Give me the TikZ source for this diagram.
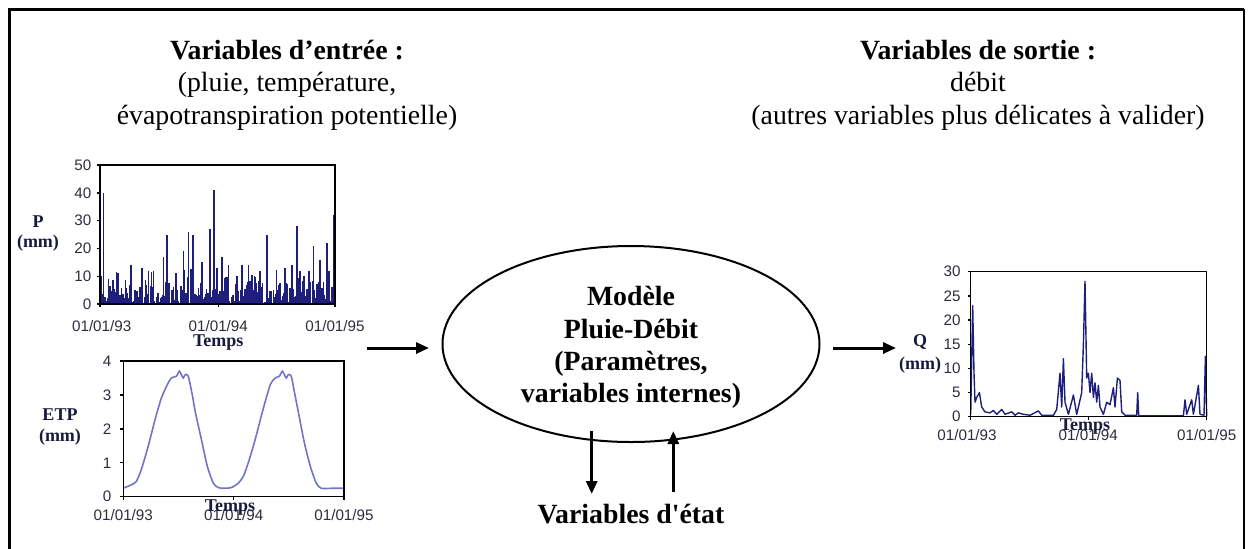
\documentclass[tikz,border=0pt]{standalone}
\usepackage{fontspec}
\setmainfont{Liberation Serif}
\newfontfamily\axisfont{Liberation Sans}
\usetikzlibrary{shapes.geometric,arrows.meta}
\definecolor{navy}{RGB}{30,30,125}
\definecolor{etpcol}{RGB}{115,115,200}
\definecolor{tickcol}{RGB}{45,45,60}
\definecolor{lblcol}{RGB}{25,25,60}
\begin{document}
\begin{tikzpicture}[x=0.5pt,y=-0.5pt,
  titlefont/.style={font=\fontsize{13.9}{16.2}\selectfont, align=center, inner sep=0pt},
  boldtitle/.style={font=\bfseries\fontsize{13.9}{16.2}\selectfont, align=center, inner sep=0pt},
  arr/.style={line width=1.5pt, -{Triangle[length=6.5pt,width=5.5pt]}},
  chartframe/.style={line width=0.7pt, black},
  ticklbl/.style={font=\axisfont\fontsize{7.6}{9}\selectfont, text=tickcol, inner sep=1pt},
  axlbl/.style={font=\bfseries\fontsize{9}{10}\selectfont, text=lblcol, inner sep=0pt},
  pdata/.style={line width=0.55pt, navy},
  qdata/.style={line width=0.7pt, navy, line join=round},
  etpline/.style={line width=0.8pt, etpcol}
]
\useasboundingbox (0,0) rectangle (1248,548);
% outer frame (bottom edge lies outside the picture)
\draw[line width=1.5pt] (9,560) -- (9,9) -- (1244,9);
\draw[line width=1.2pt] (1244,9) -- (1244,560);

% titles
\node[titlefont] (tin) at (287,85) {\textbf{Variables d’entrée :}\\(pluie, température,\\évapotranspiration potentielle)};
\node[titlefont] (tout) at (978,85) {\textbf{Variables de sortie :}\\débit\\(autres variables plus délicates à valider)};

% ---------------- P chart ----------------
\begin{scope}[shift={(100,304)}]
  \begin{scope}[yscale=-2.78]
    \pgfmathsetseed{4321}
    \foreach \i in {0,0.5,...,234.5} {
      \pgfmathsetmacro{\h}{(rnd<0.7)*rnd*rnd*15}
      \draw[pdata] (\i,0) -- (\i,\h);
    }
    \foreach \x/\v in {1/10,3.3/40,8.3/9,18.3/7,26.7/3,31/14,35/5,41.7/13,48.3/12,53.3/12,63.3/17,66.7/25,71.7/5,76/11,83.3/19,88.3/26,92.7/25,101.7/15,110/27,114/41,116.7/13,121.7/17,128.3/14,136.7/10,141.7/14,148.3/14,153.3/5,160/12,166.7/25,173.3/5,178.3/4,185/13,191.7/14,196.7/28,200/12,205/3,213.3/21,220/16,226.7/22,231.7/6,234/32} {
      \draw[pdata, line width=0.8pt] (\x,0) -- (\x,\v);
    }
  \end{scope}
  \draw[chartframe] (0,0) rectangle (235,-139);
  \foreach \v in {0,10,20,30,40,50} {
    \draw[chartframe] (0,-\v*2.78) -- ++(-3,0);
    \node[ticklbl, anchor=east] (py\v) at (-6.3,-\v*2.78) {\v};
  }
  \foreach \x in {0,118.3,235} {
    \draw[chartframe] (\x,0) -- ++(0,3);
  }
  \node[ticklbl] (px1) at (1.7,22) {01/01/93};
  \node[ticklbl] (px2) at (118.3,22) {01/01/94};
  \node[ticklbl] (px3) at (235,22) {01/01/95};
  \node[axlbl] (ptemps) at (118.3,39) {Temps};
\end{scope}
\node[axlbl] (plab) at (38,222) {P};
\node[axlbl] (pmm) at (38,243) {(mm)};

% ---------------- ETP chart ----------------
\begin{scope}[shift={(123.3,496.7)}]
  \begin{scope}[yscale=-33.93]
    \draw[etpline] plot[smooth, tension=0.45] coordinates {(0,0.25) (8,0.35) (13,0.45) (18,0.8) (25,1.5) (32,2.3) (38,2.9) (44,3.3) (48,3.5) (53,3.55) (56,3.7) (58,3.6) (60,3.5) (62,3.6) (65,3.55) (69,3.0) (72,2.5) (78,1.7) (84,0.9) (90,0.4) (95,0.27) (100,0.25) (108,0.27) (115,0.4) (120,0.6) (125,1.0) (132,1.7) (140,2.6) (147,3.3) (152,3.5) (156,3.55) (159,3.7) (161,3.6) (163,3.5) (165,3.6) (168,3.55) (171,3.1) (175,2.5) (181,1.6) (187,0.9) (193,0.4) (198,0.25) (210,0.25) (220.7,0.25)};
  \end{scope}
  \draw[chartframe] (0,0) rectangle (220.7,-135.7);
  \foreach \v in {0,1,2,3,4} {
    \draw[chartframe] (0,-\v*33.93) -- ++(-3,0);
    \node[ticklbl, anchor=east] (ey\v) at (-9.6,-\v*33.93) {\v};
  }
  \foreach \x in {0,110.35,220.7} {
    \draw[chartframe] (\x,0) -- ++(0,3);
  }
  \node[ticklbl] (ex1) at (0,18.3) {01/01/93};
  \node[ticklbl] (ex2) at (110.35,18.3) {01/01/94};
  \node[ticklbl] (ex3) at (220.7,18.3) {01/01/95};
  \node[axlbl] (etemps) at (106.7,11) {Temps};
\end{scope}
\node[axlbl] (elab) at (60,415) {ETP};
\node[axlbl] (emm) at (60,437) {(mm)};

% ---------------- Q chart ----------------
\begin{scope}[shift={(970.7,416.7)}]
  \begin{scope}[yscale=-4.833]
    \draw[qdata] (0,0.5) -- (2,23) -- (3.3,9) -- (4.3,3) -- (6,4) -- (8.7,5) -- (11,2) -- (14.3,1) -- (19.3,0.8) -- (22.7,1.3) -- (26,0.5) -- (31,1.5) -- (34.3,0.5) -- (41,1) -- (44.3,0.3) -- (47.7,0.8) -- (52.7,0.5) -- (59.3,0.3) -- (67.7,1.2) -- (71,0.3) -- (82.7,0.3) -- (86,1.5) -- (89.3,9) -- (91,2) -- (92.7,12) -- (94.3,3) -- (97.7,0.5) -- (102.7,4.5) -- (106,0.5) -- (107.7,2) -- (111,5) -- (112.7,15) -- (114.3,28) -- (116,8) -- (117.7,9) -- (119.3,5) -- (121,9) -- (122.7,4) -- (124.3,7) -- (126,3) -- (127.7,6.5) -- (129.3,2) -- (132.7,0.5) -- (136,3) -- (139.3,2.5) -- (142.7,6) -- (144.3,2) -- (146.7,8) -- (149.3,7.5) -- (151,1) -- (154.3,0.3) -- (166,0.3) -- (167,5) -- (168,0.2) -- (212.7,0.2) -- (214.3,3.5) -- (216,0.5) -- (221,3.5) -- (222.7,0.5) -- (227.7,6.5) -- (229.3,0.5) -- (233.3,0.3) -- (234.7,12.5) -- (236,0);
  \end{scope}
  \draw[chartframe] (0,0) rectangle (236,-145);
  \foreach \v in {0,5,10,15,20,25,30} {
    \draw[chartframe] (0,-\v*4.833) -- ++(-3,0);
    \node[ticklbl, anchor=east] (qy\v) at (-7.7,-\v*4.833) {\v};
  }
  \foreach \x in {0,117.6,236} {
    \draw[chartframe] (\x,0) -- ++(0,3);
  }
  \node[ticklbl] (qx1) at (-3.7,18.3) {01/01/93};
  \node[ticklbl] (qx2) at (117.6,18.3) {01/01/94};
  \node[ticklbl] (qx3) at (236,18.3) {01/01/95};
  \node[axlbl] (qtemps) at (114.3,10) {Temps};
\end{scope}
\node[axlbl] (qlab) at (920,342) {Q};
\node[axlbl] (qmm) at (920,365) {(mm)};

% ---------------- model ----------------
\node[draw, ellipse, line width=1pt, minimum width=188.5pt, minimum height=98pt, inner sep=0pt] (model) at (631,344) {};
\node[boldtitle] (modeltxt) at (631,347.5) {Modèle\\Pluie-Débit\\(Paramètres,\\variables internes)};
\node[boldtitle] (etat) at (631,514) {Variables d\textquotesingle état};

% arrows
\coordinate (inA) at (367,348);
\coordinate (inB) at (429,348);
\coordinate (outA) at (833,348);
\coordinate (outB) at (896,348);
\coordinate (downA) at (591.7,431);
\coordinate (downB) at (591.7,494);
\coordinate (upA) at (673.3,492);
\coordinate (upB) at (673.3,431);
\draw[arr] (inA) -- (inB);
\draw[arr] (outA) -- (outB);
\draw[arr] (downA) -- (downB);
\draw[arr] (upA) -- (upB);
\end{tikzpicture}
\end{document}
